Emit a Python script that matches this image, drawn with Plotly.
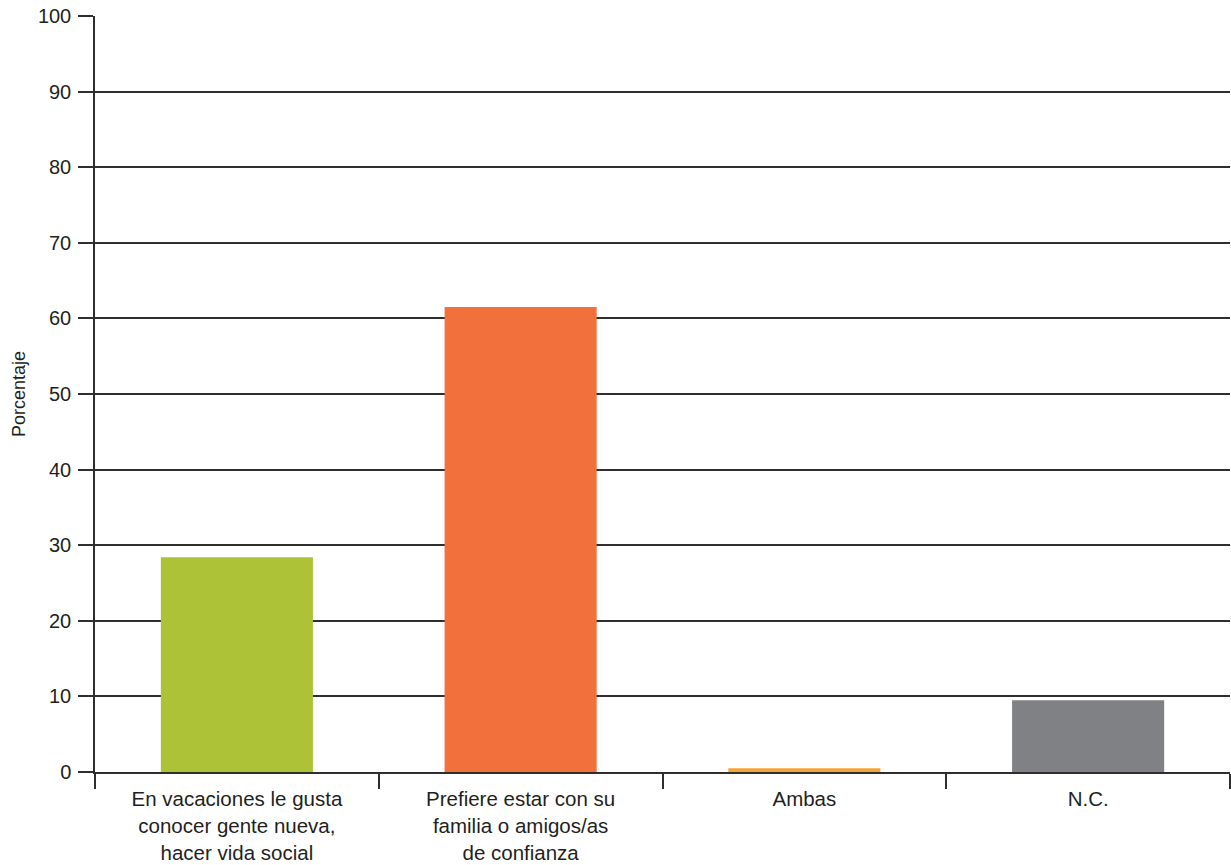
import plotly.graph_objects as go

categories = [
    "En vacaciones le gusta<br>conocer gente nueva,<br>hacer vida social",
    "Prefiere estar con su<br>familia o amigos/as<br>de confianza",
    "Ambas",
    "N.C.",
]
values = [28.4, 61.5, 0.5, 9.5]
colors = ["#adc236", "#f2703b", "#f5a534", "#808184"]
y_ticks = [0, 10, 20, 30, 40, 50, 60, 70, 80, 90, 100]

font_family = "Liberation Sans, Arial, sans-serif"
text_color = "#231f20"
line_color = "#2e2e2e"

fig = go.Figure(
    go.Bar(x=categories, y=values, marker=dict(color=colors, line=dict(width=0)),
           width=0.536)
)

fig.update_layout(
    width=1231, height=865,
    margin=dict(l=95, r=1, t=16, b=93),
    paper_bgcolor="white", plot_bgcolor="white",
    showlegend=False,
    font=dict(family=font_family, size=20, color=text_color),
)
fig.update_yaxes(
    range=[0, 100], tickvals=y_ticks, ticktext=[str(v) for v in y_ticks],
    tickfont=dict(size=20),
    showgrid=True, gridcolor=line_color, gridwidth=1.5,
    showline=True, linecolor=line_color, linewidth=1.5,
    ticks="outside", ticklen=15, tickcolor=line_color, tickwidth=1.5,
    ticklabelstandoff=3,
    zeroline=False, automargin=False,
    title=dict(text="Porcentaje", font=dict(size=18), standoff=8),
)
fig.update_xaxes(
    range=[-0.5, 3.5], type="category",
    tickfont=dict(size=20.5),
    showline=True, linecolor=line_color, linewidth=1.5,
    ticks="outside", ticklen=15, tickcolor=line_color, tickwidth=1.5,
    tickson="boundaries", ticklabelstandoff=8,
    showgrid=False, automargin=False,
)

fig.write_html(
    "out.html",
    config={"displayModeBar": False},
    post_script="document.body.style.margin='0';document.body.style.overflow='hidden';",
)
